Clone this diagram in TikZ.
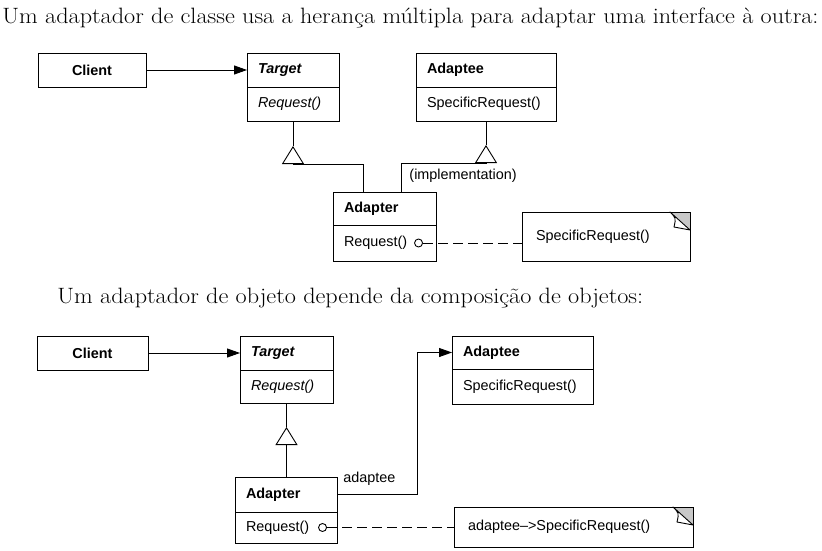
\documentclass[tikz,border=0pt]{standalone}
\usepackage{fontspec}
\usepackage{tikz}
\usetikzlibrary{arrows.meta, positioning, calc}
\newfontfamily\uml{Liberation Sans}
\newfontfamily\capserif[FakeStretch=1.09]{Latin Modern Roman}
\definecolor{foldgray}{RGB}{200,200,200}
\newcommand{\umlfont}{\uml\fontsize{14.4}{16}\selectfont}
\newcommand{\capfont}{\capserif\fontsize{22.2}{26}\selectfont}
% folded corner of a note
\newcommand{\foldcorner}[1]{%
  \fill[foldgray] ($(#1.north east)+(-20,0)$) -- (#1.north east) -- ($(#1.north east)+(0,18)$) -- cycle;
  \filldraw[fill=white, line join=round] ($(#1.north east)+(-20,0)$)
      .. controls ($(#1.north east)+(-14,6)$) .. ($(#1.north east)+(-16,15)$)
      -- ($(#1.north east)+(0,18)$) -- cycle;
  \draw (#1.north west) rectangle (#1.south east);
}

\begin{document}
\begin{tikzpicture}[
    x=1pt, y=-1pt,
    line width=0.9pt,
    >={Triangle[length=13pt, width=9pt]},
    classbox/.style={draw, outer sep=0pt, inner xsep=11pt, inner ysep=0pt,
                     minimum height=34pt, text width=#1, align=left, font=\umlfont},
    head/.style={classbox=#1, font=\umlfont\bfseries},
    note/.style={draw, outer sep=0pt, inner xsep=14pt, inner ysep=0pt,
                 text width=#1, align=left, font=\umlfont},
    dot/.style={circle, draw, fill=white, inner sep=0pt, minimum size=8pt},
    gen/.style={-{Triangle[open, length=18pt, width=22pt]}},
    dashline/.style={dash pattern=on 10pt off 5pt},
    caption/.style={anchor=west, inner sep=0pt, font=\capfont},
]
    \useasboundingbox (0,0) rectangle (822,551);

    % Class adapter
    \node[caption] (cap1) at (2,18)
        {Um adaptador de classe usa a herança múltipla para adaptar uma interface à outra:};
    \node[classbox=86pt, align=center, font=\umlfont\bfseries, anchor=north west] (client1) at (38,53) {Client};
    \node[head=70pt, font=\umlfont\bfseries\itshape, right=101pt of client1] (target1a) {Target};
    \node[classbox=70pt, font=\umlfont\itshape, below=0pt of target1a] (target1b) {Request()};
    \node[head=118pt, right=77pt of target1a] (adaptee1a) {Adaptee};
    \node[classbox=118pt, below=0pt of adaptee1a] (adaptee1b) {SpecificRequest()};
    \node[head=81pt, minimum height=33pt, anchor=north west] (adapter1a) at (333,192) {Adapter};
    \node[classbox=81pt, minimum height=36pt, below=0pt of adapter1a] (adapter1b) {Request()};
    \node[dot, left=13pt of adapter1b.east] (dot1) {};
    \node[note=140pt, minimum height=49pt, anchor=north west] (note1) at (522,212) {SpecificRequest()};
    \foldcorner{note1}

    \draw[->] (client1) -- (target1a);
    \path (target1b.south) ++(0,25) coordinate (tip1) ++(0,18) coordinate (base1);
    \path (adaptee1b.south) ++(0,24) coordinate (tip2) ++(0,18) coordinate (base2);
    \draw (target1b.south) -- (tip1);
    \draw (adaptee1b.south) -- (tip2);
    \draw[gen] ($(adapter1a.north west)+(30,0)$) |- (base1) -- (tip1);
    \draw[gen] ($(adapter1a.north west)+(68,0)$) |- (base2) -- (tip2);
    \node[anchor=west, inner sep=2pt, font=\umlfont] (impl) at ($(adapter1a.north west)+(74,-16)$) {(implementation)};
    \draw[dashline] (dot1.east) -- (dot1.east -| note1.west);

    % Object adapter
    \node[caption] (cap2) at (57,298)
        {Um adaptador de objeto depende da composição de objetos:};
    \node[classbox=89pt, align=center, font=\umlfont\bfseries, anchor=north west] (client2) at (37,336) {Client};
    \node[head=71pt, font=\umlfont\bfseries\itshape, right=92pt of client2] (target2a) {Target};
    \node[classbox=71pt, font=\umlfont\itshape, minimum height=33pt, below=0pt of target2a] (target2b) {Request()};
    \node[head=119pt, minimum height=33pt, anchor=north west] (adaptee2a) at (452,336) {Adaptee};
    \node[classbox=119pt, minimum height=35pt, below=0pt of adaptee2a] (adaptee2b) {SpecificRequest()};
    \node[head=80pt, minimum height=35pt, anchor=north west] (adapter2a) at (235,477) {Adapter};
    \node[classbox=80pt, minimum height=31pt, below=0pt of adapter2a] (adapter2b) {Request()};
    \node[dot, left=10pt of adapter2b.east] (dot2) {};
    \node[note=211pt, minimum height=40pt, anchor=north west] (note2) at (454,507) {adaptee–>SpecificRequest()};
    \foldcorner{note2}

    \draw[->] (client2) -- (target2a);
    \path (target2b.south) ++(0,24) coordinate (tip3);
    \draw (target2b.south) -- (tip3);
    \draw[gen] (tip3 |- adapter2a.north) -- (tip3);
    \draw[->] (adapter2a.east)
        node[anchor=base west, inner sep=0pt, xshift=6pt, yshift=12pt, font=\umlfont] (role) {adaptee}
        -- ++(80,0) |- (adaptee2a.west);
    \draw[dashline] (dot2.east) -- (dot2.east -| note2.west);
\end{tikzpicture}
\end{document}
